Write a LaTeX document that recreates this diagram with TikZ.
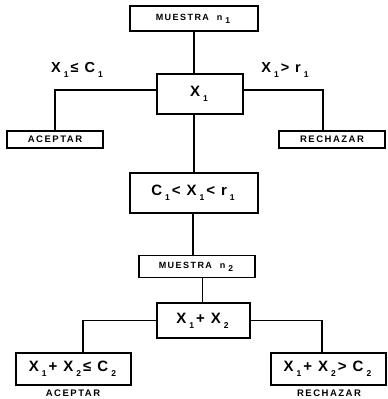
\documentclass[tikz,border=0pt]{standalone}
\usepackage{fontspec}
\setmainfont{Liberation Sans}[BoldFont=* Bold]
\newfontfamily\capsfont[LetterSpace=16]{Liberation Sans Bold}
\newfontfamily\mthfont{Liberation Sans Bold}
\newcommand{\sbx}[1]{\hspace{3pt}\raisebox{-0.65ex}{\fontsize{8.5}{8.5}\selectfont #1}\hspace{2pt}}
\newcommand{\gp}{\hspace{6pt}}
\newcommand{\capsize}{\fontsize{9.5}{10}\selectfont}
\begin{document}
\begin{tikzpicture}[x=1pt,y=1pt,
  bx/.style={draw, line width=1.2pt, inner sep=0pt, align=center},
  conn/.style={line width=1.1pt},
  capt/.style={font=\capsfont\capsize, inner sep=0pt},
  mth/.style={font=\mthfont\fontsize{14.5}{14.5}\selectfont, inner sep=0pt}]
\useasboundingbox (0,0) rectangle (388,-399);
% nodes
\node[bx, minimum width=128pt, minimum height=25pt, font=\capsfont\fontsize{9}{9}\selectfont] (m1) at (194,-18.5) {MUESTRA\hspace{8pt}n\sbx{1}};
\node[bx, minimum width=86pt, minimum height=40pt, font=\mthfont\fontsize{15}{15}\selectfont] (x1) at (200,-94) {X\sbx{1}};
\node[bx, minimum width=96pt, minimum height=17pt, font=\capsfont\capsize] (acc1) at (55,-139.5) {ACEPTAR};
\node[bx, minimum width=106pt, minimum height=17pt, font=\capsfont\capsize] (rej1) at (332,-139.5) {RECHAZAR};
\node[mth] (lab1) at (77,-70) {X\sbx{1}≤\gp C\sbx{1}};
\node[mth] (lab2) at (285,-70) {X\sbx{1}>\gp r\sbx{1}};
\node[bx, minimum width=128pt, minimum height=40pt, font=\mthfont\fontsize{15}{15}\selectfont] (c1) at (194,-193) {C\sbx{1}<\gp X\sbx{1}<\gp r\sbx{1}};
\node[bx, minimum width=116pt, minimum height=22pt, font=\capsfont\fontsize{9}{9}\selectfont] (m2) at (197,-266.5) {MUESTRA\hspace{8pt}n\sbx{2}};
\node[bx, minimum width=93pt, minimum height=35pt, font=\mthfont\fontsize{15}{15}\selectfont] (x12) at (203.5,-320.5) {X\sbx{1}+\gp X\sbx{2}};
\node[bx, minimum width=115pt, minimum height=32pt, font=\mthfont\fontsize{15}{15}\selectfont] (b1) at (73.5,-369) {X\sbx{1}+\gp X\sbx{2}≤\gp C\sbx{2}};
\node[bx, minimum width=115pt, minimum height=32pt, font=\mthfont\fontsize{15}{15}\selectfont] (b2) at (328.5,-369) {X\sbx{1}+\gp X\sbx{2}>\gp C\sbx{2}};
\node[capt] (acc2) at (73,-393) {ACEPTAR};
\node[capt] (rej2) at (329,-393) {RECHAZAR};
% connectors
\draw[conn] (m1.south) -- (m1.south |- x1.north);
\draw[conn] ([yshift=4pt]x1.west) -| (acc1.north);
\draw[conn] ([yshift=4pt]x1.east) -| ([xshift=-9pt]rej1.north);
\draw[conn] (c1.north |- x1.south) -- (c1.north);
\draw[conn] ([xshift=-1pt]c1.south) -- ([xshift=-1pt]c1.south |- m2.north);
\draw[conn] ([xshift=-1pt]x12.north |- m2.south) -- ([xshift=-1pt]x12.north);
\draw[conn] (x12.west) -| ([xshift=9.5pt]b1.north);
\draw[conn] (x12.east) -| ([xshift=-6.5pt]b2.north);
\end{tikzpicture}
\end{document}
